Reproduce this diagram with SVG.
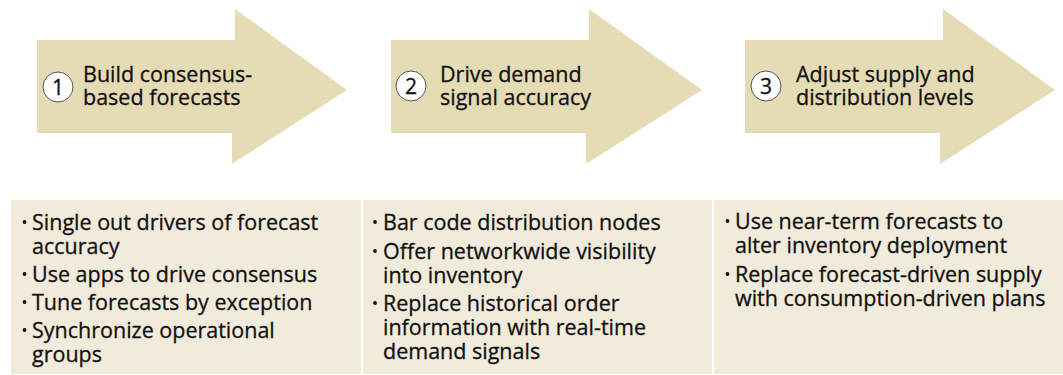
<svg xmlns="http://www.w3.org/2000/svg" width="1063" height="375" viewBox="0 0 1063 375">
<style>
.arrow{fill:#e5dcb5}
.panel{fill:#f1ebdb}
.num{fill:#fff;stroke:#555;stroke-width:1}
.numt{font-family:"Open Sans","Liberation Sans",sans-serif;font-size:21px;fill:#111;stroke:#111;stroke-width:0.3;text-anchor:middle}
.head{font-family:"Open Sans","Liberation Sans",sans-serif;font-size:21.5px;fill:#111;stroke:#111;stroke-width:0.3}
.item{font-family:"Open Sans","Liberation Sans",sans-serif;font-size:21.5px;fill:#111;stroke:#111;stroke-width:0.3}
.dot{fill:#111}
</style>
<rect width="1063" height="375" fill="#fff"/>
<g id="step1">
<path class="arrow" d="M37,40 H235 V9 L347,90 L232,164 V133 H37 Z"/>
<circle class="num" cx="58" cy="87" r="15"/>
<text class="numt" x="58" y="94.5">1</text>
<text class="head" x="83" y="82">Build consensus-<tspan x="83" dy="23">based forecasts</tspan></text>
</g>
<g id="step2">
<path class="arrow" d="M391,40 H589 V9 L702,90 L586,164 V133 H391 Z"/>
<circle class="num" cx="411" cy="86" r="15"/>
<text class="numt" x="411" y="93.5">2</text>
<text class="head" x="440" y="82">Drive demand<tspan x="440" dy="23">signal accuracy</tspan></text>
</g>
<g id="step3">
<path class="arrow" d="M745,40 H943 V9 L1055,90 L940,164 V133 H745 Z"/>
<circle class="num" cx="766" cy="86" r="15"/>
<text class="numt" x="766" y="93.5">3</text>
<text class="head" x="796" y="82">Adjust supply and<tspan x="796" dy="23">distribution levels</tspan></text>
</g>
<g id="panel1">
<rect class="panel" x="11" y="200" width="350" height="174"/>
<circle class="dot" cx="24.5" cy="222" r="1.9"/>
<circle class="dot" cx="24.5" cy="274" r="1.9"/>
<circle class="dot" cx="24.5" cy="302" r="1.9"/>
<circle class="dot" cx="24.5" cy="330" r="1.9"/>
<text class="item" x="32" y="230">Single out drivers of forecast<tspan x="32" dy="24">accuracy</tspan></text>
<text class="item" x="32" y="282">Use apps to drive consensus</text>
<text class="item" x="32" y="310">Tune forecasts by exception</text>
<text class="item" x="32" y="338">Synchronize operational<tspan x="32" dy="24">groups</tspan></text>
</g>
<g id="panel2">
<rect class="panel" x="363" y="200" width="349" height="174"/>
<circle class="dot" cx="375" cy="222" r="1.9"/>
<circle class="dot" cx="375" cy="251" r="1.9"/>
<circle class="dot" cx="375" cy="303" r="1.9"/>
<text class="item" x="383" y="230">Bar code distribution nodes</text>
<text class="item" x="383" y="259">Offer networkwide visibility<tspan x="383" dy="24">into inventory</tspan></text>
<text class="item" x="383" y="311">Replace historical order<tspan x="383" dy="24">information with real-time</tspan><tspan x="383" dy="24">demand signals</tspan></text>
</g>
<g id="panel3">
<rect class="panel" x="714" y="200" width="349" height="174"/>
<circle class="dot" cx="727.5" cy="221" r="1.9"/>
<circle class="dot" cx="727.5" cy="274" r="1.9"/>
<text class="item" x="735" y="229">Use near-term forecasts to<tspan x="735" dy="24">alter inventory deployment</tspan></text>
<text class="item" x="735" y="282">Replace forecast-driven supply<tspan x="735" dy="24">with consumption-driven plans</tspan></text>
</g>
</svg>
